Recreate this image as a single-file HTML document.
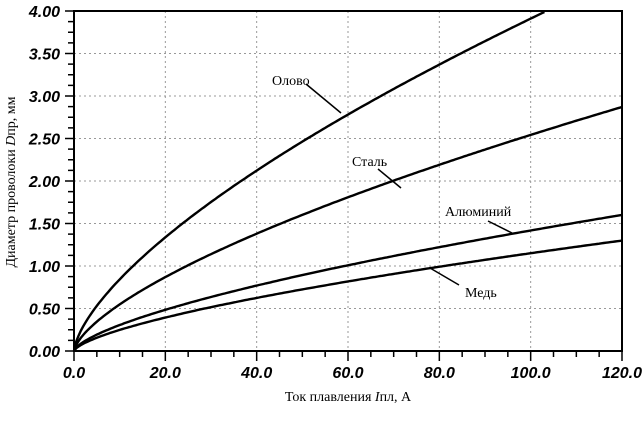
<!DOCTYPE html>
<html><head><meta charset="utf-8"><style>
html,body{margin:0;padding:0;background:#fff;}
svg{display:block;}
.t{font-family:"Liberation Sans",sans-serif;font-style:italic;font-weight:bold;font-size:16px;fill:#000;}
.s{font-family:"Liberation Serif",serif;font-size:14px;fill:#000;}
</style></head><body>
<svg id="c" width="643" height="422" viewBox="0 0 643 422" xmlns="http://www.w3.org/2000/svg">
<g id="grid" stroke="#999" stroke-width="1" stroke-dasharray="2,3"></g>
<g id="curves" fill="none" stroke="#000" stroke-width="2.4"></g>
<path d="M74,11 L622,11 L622,351 L74,351 Z" fill="none" stroke="#000" stroke-width="2"/>
<g id="ticks" stroke="#000" stroke-width="1.5"></g>
<g id="labels"></g>
<g stroke="#000" stroke-width="1.5">
<line x1="306" y1="84" x2="341" y2="113"/>
<line x1="378" y1="169" x2="401" y2="188"/>
<line x1="488" y1="221" x2="512" y2="233"/>
<line x1="459" y1="285" x2="430" y2="268"/>
</g>
<text class="s" x="272" y="85">Олово</text>
<text class="s" x="352" y="166">Сталь</text>
<text class="s" x="445" y="216">Алюминий</text>
<text class="s" x="465" y="297">Медь</text>
<text class="s" x="348" y="401" text-anchor="middle">Ток плавления <tspan font-style="italic">I</tspan>пл, А</text>
<text class="s" transform="translate(15,182) rotate(-90)" text-anchor="middle">Диаметр проволоки <tspan font-style="italic">D</tspan>пр, мм</text>
</svg>
<script>
var NS="http://www.w3.org/2000/svg";
function X(v){return 74+v*548/120;}
function Y(v){return 351-v*85;}
function el(p,t,a){var e=document.createElementNS(NS,t);for(var k in a)e.setAttribute(k,a[k]);document.getElementById(p).appendChild(e);return e;}
for(var i=1;i<6;i++){var x=X(i*20);el("grid","line",{x1:x,y1:11,x2:x,y2:351});}
for(var i=1;i<8;i++){var y=Y(i*0.5);el("grid","line",{x1:74,y1:y,x2:622,y2:y});}
for(var v=0;v<=120;v+=5){var x=X(v);el("ticks","line",{x1:x,y1:351,x2:x,y2:v%20==0?361:357});}
for(var v=0;v<=4.0001;v+=0.125){var y=Y(v);var maj=Math.abs(v*2-Math.round(v*2))<1e-6;el("ticks","line",{x1:maj?65:68,y1:y,x2:74,y2:y});}
for(var i=0;i<=6;i++){var t=el("labels","text",{"class":"t",x:X(i*20),y:378,"text-anchor":"middle"});t.textContent=(i*20).toFixed(1);}
for(var i=0;i<=8;i++){var t=el("labels","text",{"class":"t",x:60,y:Y(i*0.5)+6,"text-anchor":"end"});t.textContent=(i*0.5).toFixed(2);}
var A=[0.1815,0.118,0.0658,0.0534];
A.forEach(function(a){var d="";for(var v=0;v<=120;v+=0.5){var yv=a*Math.pow(v,2/3);if(yv>4.0)break;d+=(d?"L":"M")+X(v).toFixed(1)+","+Y(yv).toFixed(1);}el("curves","path",{d:d});});
</script>
</body></html>
